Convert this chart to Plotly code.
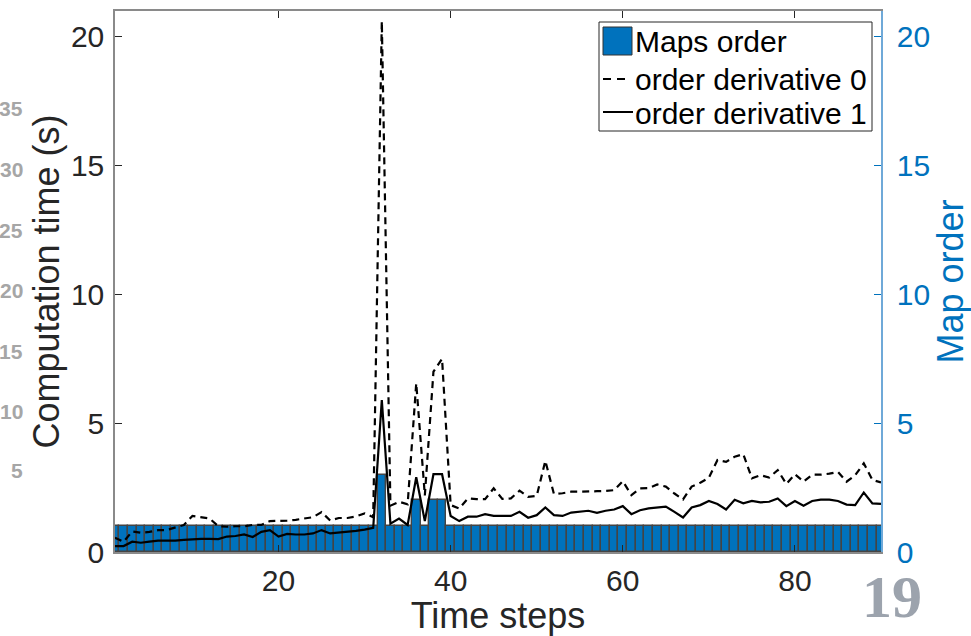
import plotly.graph_objects as go

# ---- data -------------------------------------------------------------
time_steps = list(range(1, 91))

maps_order = [1] * 90
for step, order in [(32, 3), (36, 2), (38, 2), (39, 2)]:
    maps_order[step - 1] = order

order_derivative_0 = [
    0.55, 0.40, 0.80, 0.75, 0.78, 0.85, 0.85, 0.95, 1.05, 1.40,
    1.35, 1.30, 1.00, 0.98, 1.00, 1.00, 1.05, 1.05, 1.20, 1.20,
    1.22, 1.25, 1.30, 1.35, 1.55, 1.22, 1.32, 1.32, 1.38, 1.50,
    1.35, 20.6, 1.80, 1.95, 1.85, 6.55, 2.20, 7.00, 7.50, 1.82,
    1.69, 2.08, 2.05, 2.05, 2.47, 2.06, 2.08, 2.38, 2.14, 2.18,
    3.54, 2.25, 2.28, 2.34, 2.34, 2.34, 2.36, 2.37, 2.40, 2.75,
    2.21, 2.47, 2.48, 2.62, 2.54, 2.27, 2.04, 2.54, 2.69, 2.88,
    3.57, 3.50, 3.70, 3.80, 2.86, 2.98, 2.89, 3.18, 2.64, 3.02,
    2.73, 3.00, 3.00, 3.04, 3.11, 2.73, 2.98, 3.44, 2.80, 2.70,
]

order_derivative_1 = [
    0.23, 0.23, 0.40, 0.36, 0.40, 0.44, 0.44, 0.44, 0.47, 0.50,
    0.51, 0.51, 0.50, 0.60, 0.62, 0.68, 0.58, 0.78, 0.85, 0.60,
    0.70, 0.68, 0.68, 0.72, 0.85, 0.72, 0.75, 0.78, 0.82, 0.87,
    0.94, 5.90, 1.10, 1.30, 1.05, 2.90, 1.20, 3.02, 3.02, 1.40,
    1.20, 1.37, 1.37, 1.47, 1.40, 1.40, 1.40, 1.56, 1.33, 1.43,
    1.73, 1.43, 1.40, 1.53, 1.56, 1.60, 1.52, 1.60, 1.65, 1.78,
    1.47, 1.62, 1.69, 1.73, 1.76, 1.56, 1.34, 1.73, 1.82, 1.98,
    1.86, 1.65, 2.03, 1.89, 1.98, 1.93, 1.95, 2.08, 1.78, 1.98,
    1.80, 1.98, 2.03, 2.03, 1.98, 1.84, 1.82, 2.31, 1.89, 1.87,
]

y_ticks = [0, 5, 10, 15, 20]
x_ticks = [20, 40, 60, 80]
legend_labels = ["Maps order", "order derivative 0", "order derivative 1"]
side_numbers = ["35", "30", "25", "20", "15", "10", "5"]
page_number = "19"

# ---- style ------------------------------------------------------------
BLUE = "#0072BD"
INK = "#262626"
FONT = "Liberation Sans, Arial, sans-serif"
W, H = 971, 636
L, R, T, B = 115, 90, 11, 84
DASH = "7px,5px"


def px(x):
    return (x - L) / (W - L - R)


def py(y):
    return (H - B - y) / (H - T - B)


fig = go.Figure()

fig.add_trace(go.Bar(
    x=time_steps, y=maps_order, yaxis="y2", width=1.0,
    marker=dict(color=BLUE, line=dict(color="#444444", width=1.4)),
    name=legend_labels[0], showlegend=False,
))
fig.add_trace(go.Scatter(
    x=time_steps, y=order_derivative_0, mode="lines", yaxis="y",
    line=dict(color="black", width=2.2, dash=DASH),
    name=legend_labels[1], showlegend=False,
))
fig.add_trace(go.Scatter(
    x=time_steps, y=order_derivative_1, mode="lines", yaxis="y",
    line=dict(color="black", width=2.2),
    name=legend_labels[2], showlegend=False,
))

fig.update_layout(
    width=W, height=H, autosize=False,
    margin=dict(l=L, r=R, t=T, b=B, pad=0),
    paper_bgcolor="white", plot_bgcolor="white",
    font=dict(family=FONT, color=INK, size=30),
    bargap=0,
    xaxis=dict(
        range=[1, 90], tickvals=x_ticks, ticks="inside", ticklen=7,
        tickcolor=INK, showline=True, linecolor="#8a8a8a", linewidth=1.5,
        mirror="ticks", showgrid=False, zeroline=False, automargin=False,
        tickfont=dict(size=30, color=INK), ticklabelstandoff=1,
        title=dict(text="Time steps", font=dict(size=36, color=INK), standoff=18),
    ),
    yaxis2=dict(
        range=[0, 21], tickvals=y_ticks, side="right", anchor="x",
        ticks="inside", ticklen=7, tickcolor=BLUE,
        showline=True, linecolor="#6fa9d8", linewidth=1.5,
        showgrid=False, zeroline=False, automargin=False,
        tickfont=dict(size=30, color=BLUE), ticklabelstandoff=8,
        title=dict(text="Map order", font=dict(size=36, color=BLUE), standoff=8),
    ),
    yaxis=dict(
        range=[0, 21], tickvals=y_ticks, side="left", overlaying="y2",
        anchor="x", ticks="inside", ticklen=7, tickcolor=INK,
        showline=True, linecolor="#8a8a8a", linewidth=1.5,
        showgrid=False, zeroline=False, automargin=False,
        tickfont=dict(size=30, color=INK), ticklabelstandoff=3,
        title=dict(text="Computation time (s)", font=dict(size=36, color=INK), standoff=0),
    ),
)

# ---- legend box -------------------------------------------------------
shapes = [
    dict(type="rect", xref="paper", yref="paper",
         x0=px(599), x1=px(872), y0=py(22), y1=py(131),
         line=dict(color="#262626", width=1), fillcolor="white", layer="above"),
    dict(type="rect", xref="paper", yref="paper",
         x0=px(603), x1=px(632), y0=py(27), y1=py(55),
         line=dict(color="#333333", width=1), fillcolor=BLUE, layer="above"),
    dict(type="line", xref="paper", yref="paper",
         x0=px(603), x1=px(628), y0=py(79), y1=py(79),
         line=dict(color="black", width=2, dash="8px,6px"), layer="above"),
    dict(type="line", xref="paper", yref="paper",
         x0=px(603), x1=px(633), y0=py(112), y1=py(112),
         line=dict(color="black", width=2), layer="above"),
]
fig.update_layout(shapes=shapes)

annotations = []
for label, yc in zip(legend_labels, [42, 79, 113]):
    annotations.append(dict(
        text=label, xref="paper", yref="paper", x=px(633), y=py(yc),
        xanchor="left", yanchor="middle", showarrow=False,
        font=dict(size=30, color="black", family=FONT),
    ))

# faint numbers bleeding in from the neighbouring slide
for label, yc in zip(side_numbers, [109, 169, 230, 290, 351, 411, 470]):
    annotations.append(dict(
        text=f"<b>{label}</b>", xref="paper", yref="paper", x=px(25), y=py(yc),
        xanchor="right", yanchor="middle", showarrow=False,
        font=dict(size=21, color="#a6a6a6", family=FONT),
    ))

annotations.append(dict(
    text=f"<b>{page_number}</b>", xref="paper", yref="paper", x=px(892), y=py(597),
    xanchor="center", yanchor="middle", showarrow=False,
    font=dict(size=60, color="#9ca3ad", family="Liberation Serif, DejaVu Serif, serif"),
))
fig.update_layout(annotations=annotations)

fig.write_html("out.html")
